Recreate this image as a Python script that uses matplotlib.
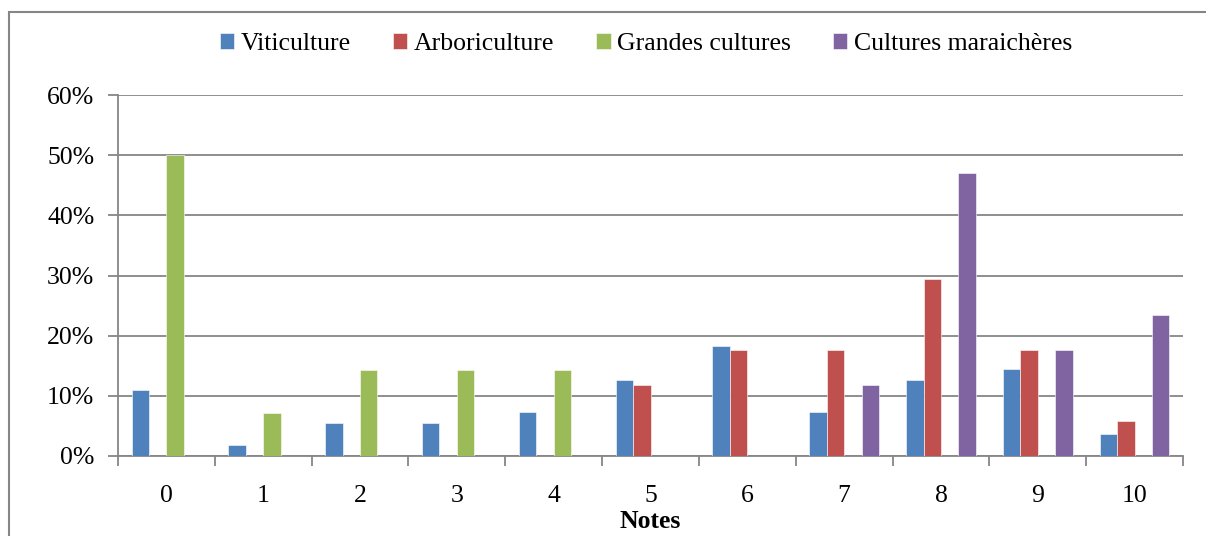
import matplotlib
matplotlib.use('Agg')
import matplotlib.pyplot as plt
from matplotlib.patches import Rectangle
import numpy as np

plt.rcParams['font.family'] = ['Liberation Serif', 'DejaVu Serif']

notes = ['0', '1', '2', '3', '4', '5', '6', '7', '8', '9', '10']
viticulture = [10.9, 1.8, 5.45, 5.45, 7.27, 12.7, 18.2, 7.27, 12.7, 14.5, 3.6]
arboriculture = [0, 0, 0, 0, 0, 11.8, 17.6, 17.6, 29.4, 17.6, 5.9]
grandes = [50.0, 7.1, 14.3, 14.3, 14.3, 0, 0, 0, 0, 0, 0]
maraicheres = [0, 0, 0, 0, 0, 0, 0, 11.8, 47.1, 17.6, 23.5]

series = [
    ('Viticulture', viticulture, '#4F81BD'),
    ('Arboriculture', arboriculture, '#C0504D'),
    ('Grandes cultures', grandes, '#9BBB59'),
    ('Cultures maraichères', maraicheres, '#8064A2'),
]

grey = '#868686'
fs = 18.5

fig = plt.figure(figsize=(12.06, 5.36), dpi=100)
ax = fig.add_axes([118 / 1206, 1 - 456 / 536, (1183 - 118) / 1206, (456 - 95) / 536])

x = np.arange(len(notes))
w = 0.18
for i, (name, vals, col) in enumerate(series):
    ax.bar(x + (i - 1.5) * w, vals, w, color=col, label=name,
           edgecolor='white', linewidth=0.4, zorder=3)

ax.set_xlim(-0.5, 10.5)
ax.set_ylim(0, 60)
ax.set_yticks(range(0, 61, 10))
ax.set_yticklabels([f'{v}%' for v in range(0, 61, 10)], fontsize=fs)
ax.yaxis.grid(True, color=grey, linewidth=1.3, zorder=0)

# major ticks mark category boundaries, minor ticks carry the labels
ax.set_xticks(np.arange(-0.5, 11, 1))
ax.set_xticklabels([])
ax.set_xticks(x, minor=True)
ax.set_xticklabels(notes, minor=True, fontsize=fs)
ax.tick_params(axis='x', which='major', direction='out', length=7, color=grey, width=1.3)
ax.tick_params(axis='x', which='minor', length=0, pad=21)
ax.tick_params(axis='y', direction='out', length=7, color=grey, width=1.3, pad=10)

for s in ['top', 'right']:
    ax.spines[s].set_visible(False)
for s in ['left', 'bottom']:
    ax.spines[s].set_color(grey)
    ax.spines[s].set_linewidth(1.3)

ax.set_xlabel('Notes', fontsize=fs, fontweight='bold', labelpad=2)

fig.legend(loc='center', bbox_to_anchor=(646 / 1206, 1 - 44 / 536), ncol=4,
           frameon=False, fontsize=fs, handlelength=0.55, handleheight=0.55,
           handletextpad=0.25, columnspacing=1.65)

fig.patches.append(Rectangle((9 / 1206, -0.1), 1.2, 1.1 - 12 / 536,
                             transform=fig.transFigure, fill=False,
                             edgecolor=grey, linewidth=1.5))

fig.savefig('out.png', dpi=100)
